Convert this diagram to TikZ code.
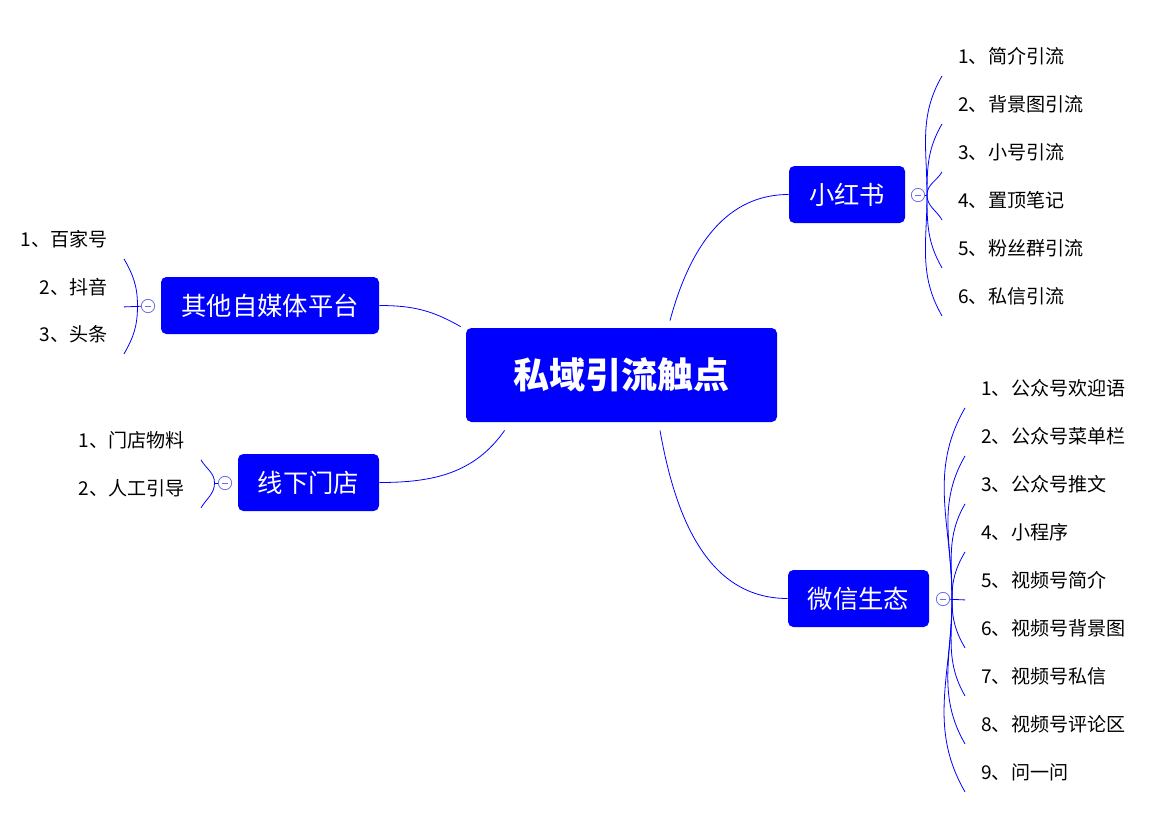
\documentclass[tikz,border=0pt]{standalone}
\usepackage{fontspec}
\setmainfont{Noto Sans CJK SC}
\usetikzlibrary{calc,positioning}
\definecolor{mapblue}{RGB}{0,0,255}
\definecolor{foldblue}{RGB}{110,110,235}
\tikzset{
    every picture/.style={line width=0.6pt},
    topic/.style={rectangle,rounded corners=4pt,fill=mapblue,text=white,inner sep=0pt,
        minimum height=42.75pt,font=\fontsize{19}{22}\selectfont},
    roottopic/.style={topic,minimum width=233.25pt,minimum height=70.5pt,
        font=\fontsize{27}{32}\selectfont\bfseries},
    leaf/.style={inner xsep=12pt,inner ysep=0pt,minimum height=29.25pt,
        font=\fontsize{14.3}{17}\selectfont},
    fold/.style={circle,draw=foldblue,fill=white,minimum size=10pt,inner sep=0pt,line width=0.6pt,
        path picture={\draw[foldblue,line width=0.7pt]
            ([xshift=2.4pt]path picture bounding box.west) -- ([xshift=-2.4pt]path picture bounding box.east);}},
    link/.style={draw=mapblue,line width=0.6pt}
}
\begin{document}
\begin{tikzpicture}[x=0.75pt,y=-0.75pt]
    \useasboundingbox (0,0) rectangle (1166,818);

    % central topic and main branches
    \node[roottopic] (root) at (621.5,375) {私域引流触点};
    \node[topic,minimum width=87pt] (xhs) at (847,194.5) {小红书};
    \node[topic,minimum width=105.75pt] (wx) at (858.5,598.5) {微信生态};
    \node[topic,minimum width=163.5pt] (qita) at (270,305.5) {其他自媒体平台};
    \node[topic,minimum width=105.75pt] (md) at (308.5,482.5) {线下门店};

    \draw[link] ($(root.north)+(48.5,-7)$) to[out=75,in=180] (xhs.west);
    \draw[link] ($(root.south)+(38.5,8)$) to[out=-80,in=180] (wx.west);
    \draw[link] (qita.east) to[out=0,in=150] ($(root.north west)+(-5,-1)$);
    \draw[link] (md.east) to[out=0,in=-125] ($(root.south west)+(39,8)$);

    % leaves of xiaohongshu
    \node[leaf,anchor=west] (xhs1) at (942,56) {1、简介引流};
    \node[leaf,anchor=west] (xhs2) at (942,104) {2、背景图引流};
    \node[leaf,anchor=west] (xhs3) at (942,152) {3、小号引流};
    \node[leaf,anchor=west] (xhs4) at (942,200) {4、置顶笔记};
    \node[leaf,anchor=west] (xhs5) at (942,248) {5、粉丝群引流};
    \node[leaf,anchor=west] (xhs6) at (942,296) {6、私信引流};

    % leaves of wechat
    \node[leaf,anchor=west] (wx1) at (965,388) {1、公众号欢迎语};
    \node[leaf,anchor=west] (wx2) at (965,436) {2、公众号菜单栏};
    \node[leaf,anchor=west] (wx3) at (965,484) {3、公众号推文};
    \node[leaf,anchor=west] (wx4) at (965,532) {4、小程序};
    \node[leaf,anchor=west] (wx5) at (965,580) {5、视频号简介};
    \node[leaf,anchor=west] (wx6) at (965,628) {6、视频号背景图};
    \node[leaf,anchor=west] (wx7) at (965,676) {7、视频号私信};
    \node[leaf,anchor=west] (wx8) at (965,724) {8、视频号评论区};
    \node[leaf,anchor=west] (wx9) at (965,772) {9、问一问};

    % leaves on the left
    \node[leaf,anchor=east] (qita1) at (124,239) {1、百家号};
    \node[leaf,anchor=east] (qita2) at (124,287) {2、抖音};
    \node[leaf,anchor=east] (qita3) at (124,334) {3、头条};
    \node[leaf,anchor=east] (md1) at (201,440) {1、门店物料};
    \node[leaf,anchor=east] (md2) at (201,488) {2、人工引导};

    % brackets
    \coordinate (xhsj) at (927,195);
    \coordinate (wxj) at (952,599);
    \coordinate (qitaj) at (137.5,306);
    \coordinate (mdj) at (214.5,483);
    \foreach \i in {1,2,3}
        \draw[link] (xhsj) to[out=90,in=-120] (xhs\i.south west);
    \foreach \i in {4,5,6}
        \draw[link] (xhsj) to[out=-90,in=120] (xhs\i.south west);
    \foreach \i in {1,2,3,4}
        \draw[link] (wxj) to[out=90,in=-120] (wx\i.south west);
    \foreach \i in {6,7,8,9}
        \draw[link] (wxj) to[out=-90,in=120] (wx\i.south west);
    \draw[link] (qitaj) to[out=90,in=-60] (qita1.south east);
    \draw[link] (qitaj) to[out=-90,in=60] (qita3.south east);
    \draw[link] (mdj) to[out=90,in=-60] (md1.south east);
    \draw[link] (mdj) to[out=-90,in=60] (md2.south east);

    % fold buttons
    \node[fold] (xhsfold) at (918,195) {};
    \node[fold] (wxfold) at (943,599) {};
    \node[fold] (qitafold) at (148,306) {};
    \node[fold] (mdfold) at (225,483) {};
    \draw[link] (xhsfold) -- (xhsj);
    \draw[link] (wxfold) -- (wx5.south west);
    \draw[link] (qitafold) -- (qita2.south east);
    \draw[link] (mdfold) -- (mdj);
\end{tikzpicture}
\end{document}
